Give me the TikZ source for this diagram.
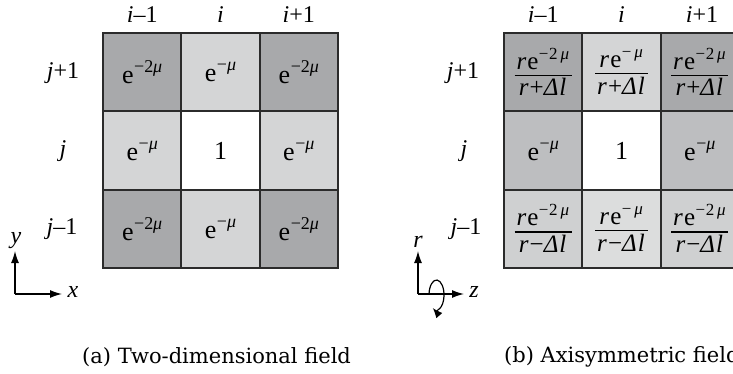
\documentclass[tikz,border=0pt]{standalone}
\usepackage{amsmath}
\usepackage{fontspec}
\setmainfont{Liberation Serif}
\newfontfamily\capfont{DejaVu Serif}
\newfontfamily\frfont[LetterSpace=4]{Liberation Serif}
\usetikzlibrary{arrows.meta}
\definecolor{gridc}{HTML}{2B2B2B}
\definecolor{cdark}{HTML}{A8A9AB}
\definecolor{clight}{HTML}{D4D5D6}
\definecolor{cmed}{HTML}{BDBEC0}
\definecolor{cbside}{HTML}{CFD0D1}
\definecolor{cbmid}{HTML}{DCDDDD}
\newcommand\supr[1]{\kern0.5pt\raisebox{11pt}{\fontsize{18}{18}\selectfont #1}}
\newcommand\ee[1]{e\supr{#1}}
\newcommand\mysupf[1]{\kern0.5pt\raisebox{10pt}{\fontsize{17}{17}\selectfont #1}}
\newcommand\myfr[2]{{\setlength\arrayrulewidth{1.1pt}\renewcommand\arraystretch{0}%
  \begin{tabular}{@{\hspace{2pt}}c@{\hspace{2pt}}}\rule[-5.5pt]{0pt}{24pt}#1\\\hline\rule[-0.5pt]{0pt}{20.5pt}#2\end{tabular}}}
\begin{document}
\begin{tikzpicture}[x=1pt,y=-1pt,
  cell/.style={draw=gridc, line width=2pt, minimum size=78.33pt, inner sep=0pt},
  celltxt/.style={font=\fontsize{26}{26}\selectfont},
  fractxt/.style={font=\frfont\fontsize{25}{25}\selectfont},
  lab/.style={font=\fontsize{24}{24}\selectfont\itshape, inner sep=0pt},
  axis/.style={line width=1.3pt, -{Latex[length=12pt,width=8pt]}},
  captxt/.style={font=\capfont\fontsize{21}{21}\selectfont, anchor=west, inner sep=0pt}]
\clip (0,0) rectangle (733,374);
\fill[white] (0,0) rectangle (733,374);
% ---- left grid
\node[cell, fill=cdark, celltxt]  (a11) at (142.17,72.17) {\ee{−2\textit{μ}}};
\node[cell, fill=clight, celltxt] (a12) at (220.5,72.17) {\ee{−\textit{μ}}};
\node[cell, fill=cdark, celltxt]  (a13) at (298.83,72.17) {\ee{−2\textit{μ}}};
\node[cell, fill=clight, celltxt] (a21) at (142.17,150.5) {\ee{−\textit{μ}}};
\node[cell, fill=white, celltxt]  (a22) at (220.5,150.5) {1};
\node[cell, fill=clight, celltxt] (a23) at (298.83,150.5) {\ee{−\textit{μ}}};
\node[cell, fill=cdark, celltxt]  (a31) at (142.17,228.83) {\ee{−2\textit{μ}}};
\node[cell, fill=clight, celltxt] (a32) at (220.5,228.83) {\ee{−\textit{μ}}};
\node[cell, fill=cdark, celltxt]  (a33) at (298.83,228.83) {\ee{−2\textit{μ}}};
% labels left
\node[lab] (ai1) at (142.17,15) {i–\upshape 1};
\node[lab] (ai2) at (220.5,15) {i};
\node[lab] (ai3) at (298.83,15) {i\upshape +1};
\node[lab] (aj1) at (63,73) {j\upshape +1};
\node[lab] (aj2) at (63,151) {j};
\node[lab] (aj3) at (62,229) {j\upshape –1};
% axes left
\coordinate (ao) at (15,294);
\coordinate (ay) at (15,251);
\coordinate (ax) at (62,294);
\draw[axis] (ao) -- (ay);
\draw[axis] (ao) -- (ax);
\node[lab] (aylab) at (16,241) {y};
\node[lab] (axlab) at (73,292) {x};
% ---- right grid
\node[cell, fill=cdark, fractxt]  (b11) at (543.17,72.17) {\myfr{\textit{r}e\mysupf{−2\,\textit{μ}}}{\textit{r}+\textit{Δl}}};
\node[cell, fill=clight, fractxt] (b12) at (621.5,72.17) {\myfr{\textit{r}e\mysupf{−\,\textit{μ}}}{\textit{r}+\textit{Δl}}};
\node[cell, fill=cdark, fractxt]  (b13) at (699.83,72.17) {\myfr{\textit{r}e\mysupf{−2\,\textit{μ}}}{\textit{r}+\textit{Δl}}};
\node[cell, fill=cmed, celltxt]   (b21) at (543.17,150.5) {\ee{−\textit{μ}}};
\node[cell, fill=white, celltxt]  (b22) at (621.5,150.5) {1};
\node[cell, fill=cmed, celltxt]   (b23) at (699.83,150.5) {\ee{−\textit{μ}}};
\node[cell, fill=cbside, fractxt] (b31) at (543.17,228.83) {\myfr{\textit{r}e\mysupf{−2\,\textit{μ}}}{\textit{r}−\textit{Δl}}};
\node[cell, fill=cbmid, fractxt]  (b32) at (621.5,228.83) {\myfr{\textit{r}e\mysupf{−\,\textit{μ}}}{\textit{r}−\textit{Δl}}};
\node[cell, fill=cbside, fractxt] (b33) at (699.83,228.83) {\myfr{\textit{r}e\mysupf{−2\,\textit{μ}}}{\textit{r}−\textit{Δl}}};
% labels right
\node[lab] (bi1) at (543.17,15) {i–\upshape 1};
\node[lab] (bi2) at (621.5,15) {i};
\node[lab] (bi3) at (702,15) {i\upshape +1};
\node[lab] (bj1) at (463,73) {j\upshape +1};
\node[lab] (bj2) at (464,151) {j};
\node[lab] (bj3) at (466,229) {j\upshape –1};
% axes right
\coordinate (bo) at (418,294);
\coordinate (br) at (418,251);
\coordinate (bz) at (464,294);
\draw[axis] (bo) -- (br);
\draw[axis] (bo) -- (bz);
\node[lab] (brlab) at (418,242) {r};
\node[lab] (bzlab) at (474,292) {z};
\coordinate (rotc) at (436.5,295);
\draw[line width=1.2pt, -{Latex[length=10pt,width=8pt]}] ([shift={(185:7.5 and 15)}]rotc) arc[start angle=185, end angle=480, x radius=7.5, y radius=15];
% captions
\node[captxt] (capa) at (82,357) {(a) Two-dimensional field};
\node[captxt] (capb) at (504,357) {(b) Axisymmetric field};
\end{tikzpicture}
\end{document}
